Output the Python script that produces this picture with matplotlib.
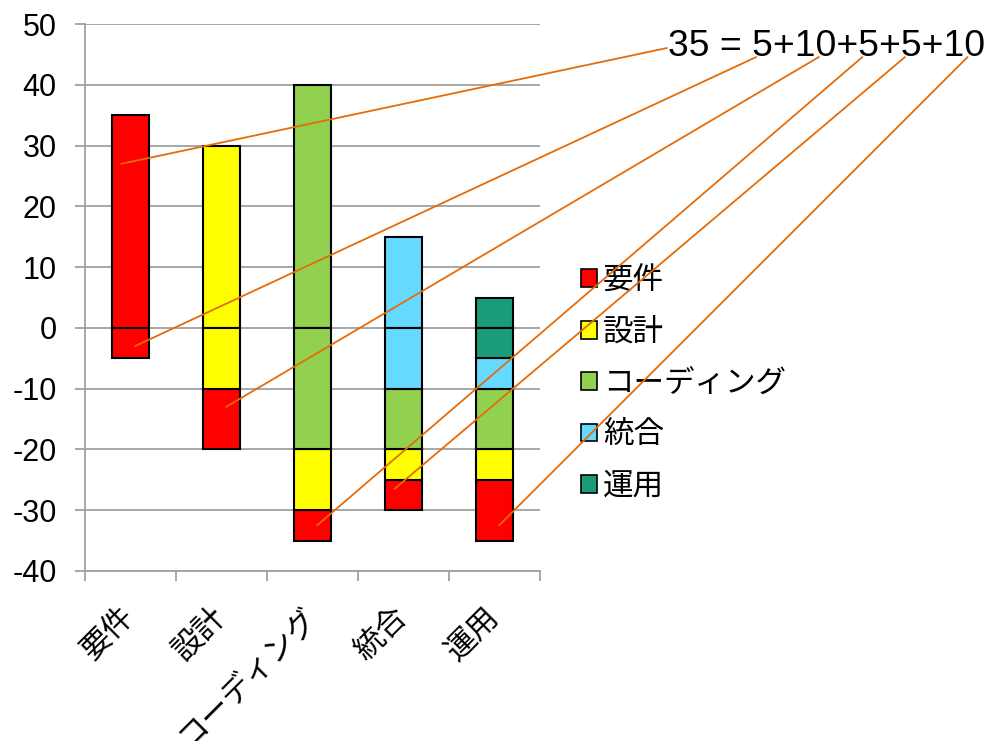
import matplotlib
matplotlib.use("Agg")
import matplotlib.pyplot as plt
from matplotlib.patches import Patch, ConnectionPatch
from matplotlib.ticker import FixedLocator
import numpy as np

plt.rcParams["font.family"] = ["Liberation Sans", "Noto Sans CJK JP", "DejaVu Sans"]
plt.rcParams["axes.unicode_minus"] = False

# Phases (columns and series share the same names)
phases = ["要件", "設計", "コーディング", "統合", "運用"]
phase_colors = ["#FF0000", "#FFFF00", "#92D050", "#66D9FF", "#1A9C7B"]

# Effort of each phase, drawn above zero in its own column
planned = [35, 30, 40, 15, 5]

# Effort charged back to each origin phase, per column (drawn below zero)
rework_req = [-5, -10, -5, -5, -10]
rework_design = [0, -10, -10, -5, -5]
rework_code = [0, 0, -20, -10, -10]
rework_integ = [0, 0, 0, -10, -5]
rework_ops = [0, 0, 0, 0, -5]

# Points in the columns that the breakdown formula points to
leader_cols = [0, 0, 1, 2, 3, 4]
leader_x_off = [-0.1, 0.05, 0.05, 0.05, -0.1, 0.05]
leader_y = [27, -3, -13, -32.5, -26.5, -32.5]

y_ticks = list(range(-40, 51, 10))

GRID = "#A0A0A0"
LEADER = "#E46C0A"
FS = 22
FS_FORMULA = 26.8

W, H = 986, 741
fig = plt.figure(figsize=(W / 100, H / 100), dpi=100)
ax = fig.add_axes([85 / W, 1 - 571 / H, (540 - 85) / W, (571 - 24) / H])

x = np.arange(len(phases))
bar_w = 0.4
rework = np.array([rework_req, rework_design, rework_code, rework_integ, rework_ops], dtype=float)

for i, c in enumerate(phase_colors):
    # positive part: the phase's own column
    ax.bar(x[i], planned[i], width=bar_w, color=c, edgecolor="black", linewidth=1.5, zorder=3)
    # negative part: stacked downward, own phase nearest to zero
    bottoms = rework[i + 1:].sum(axis=0)
    for j in x:
        if rework[i, j] != 0:
            ax.bar(x[j], rework[i, j], bottom=bottoms[j], width=bar_w, color=c,
                   edgecolor="black", linewidth=1.5, zorder=3)

ax.set_xlim(-0.5, len(phases) - 0.5)
ax.set_ylim(y_ticks[0], y_ticks[-1])
ax.set_yticks(y_ticks)
ax.yaxis.grid(True, color=GRID, linewidth=1.3, zorder=0)
ax.set_axisbelow(True)

for s in ["top", "right"]:
    ax.spines[s].set_visible(False)
for s in ["left", "bottom"]:
    ax.spines[s].set_color(GRID)
    ax.spines[s].set_linewidth(1.3)

ax.tick_params(axis="y", length=7.5, width=1.3, color=GRID, pad=13, labelsize=FS)
ax.set_xticks(x)
ax.set_xticklabels(phases, rotation=45, ha="right", va="center", rotation_mode="anchor")
ax.tick_params(axis="x", which="major", length=0, pad=30, labelsize=FS)
ax.xaxis.set_minor_locator(FixedLocator(np.arange(-0.5, len(phases), 1.0)))
ax.tick_params(axis="x", which="minor", length=7, width=1.3, color=GRID)

handles = [Patch(facecolor=c, edgecolor="black", linewidth=1.2) for c in phase_colors]
fig.legend(handles, phases, loc="center left", bbox_to_anchor=(581 / W, 1 - 384 / H),
           frameon=False, fontsize=FS, handlelength=0.52, handleheight=0.52,
           handletextpad=0.2, labelspacing=0.7, borderpad=0, borderaxespad=0)

# Breakdown formula: planned requirement effort = sum of requirement rework
terms = [str(int(-v)) for v in rework_req]
formula = f"{planned[0]} = " + "+".join(terms)
tx, ty = 668 / W, 1 - 56 / H
t = fig.text(tx, ty, formula, fontsize=FS_FORMULA, va="baseline", ha="left")

fig.canvas.draw()
renderer = fig.canvas.get_renderer()


def text_width(s):
    tmp = fig.text(0, 0, s, fontsize=FS_FORMULA)
    w = tmp.get_window_extent(renderer).width
    tmp.remove()
    return w


full_box = t.get_window_extent(renderer)
base_px = ty * H
starts = [(full_box.x0 - 1, base_px + 8)]
pos = len(f"{planned[0]} = ")
for k, tok in enumerate(terms):
    prefix = formula[:pos]
    left = full_box.x0 + text_width(prefix + tok) - text_width(tok)
    frac = 0.2 if len(tok) == 1 else 0.58
    starts.append((left + frac * text_width(tok), base_px - 1))
    pos += len(tok) + 1

for (sx, sy), col, off, yv in zip(starts, leader_cols, leader_x_off, leader_y):
    con = ConnectionPatch(xyA=(sx / W, sy / H), coordsA="figure fraction",
                          xyB=(col + off, yv), coordsB=ax.transData,
                          color=LEADER, linewidth=1.3, zorder=10)
    con.set_clip_on(False)
    fig.add_artist(con)

fig.savefig("out.png", dpi=100)
